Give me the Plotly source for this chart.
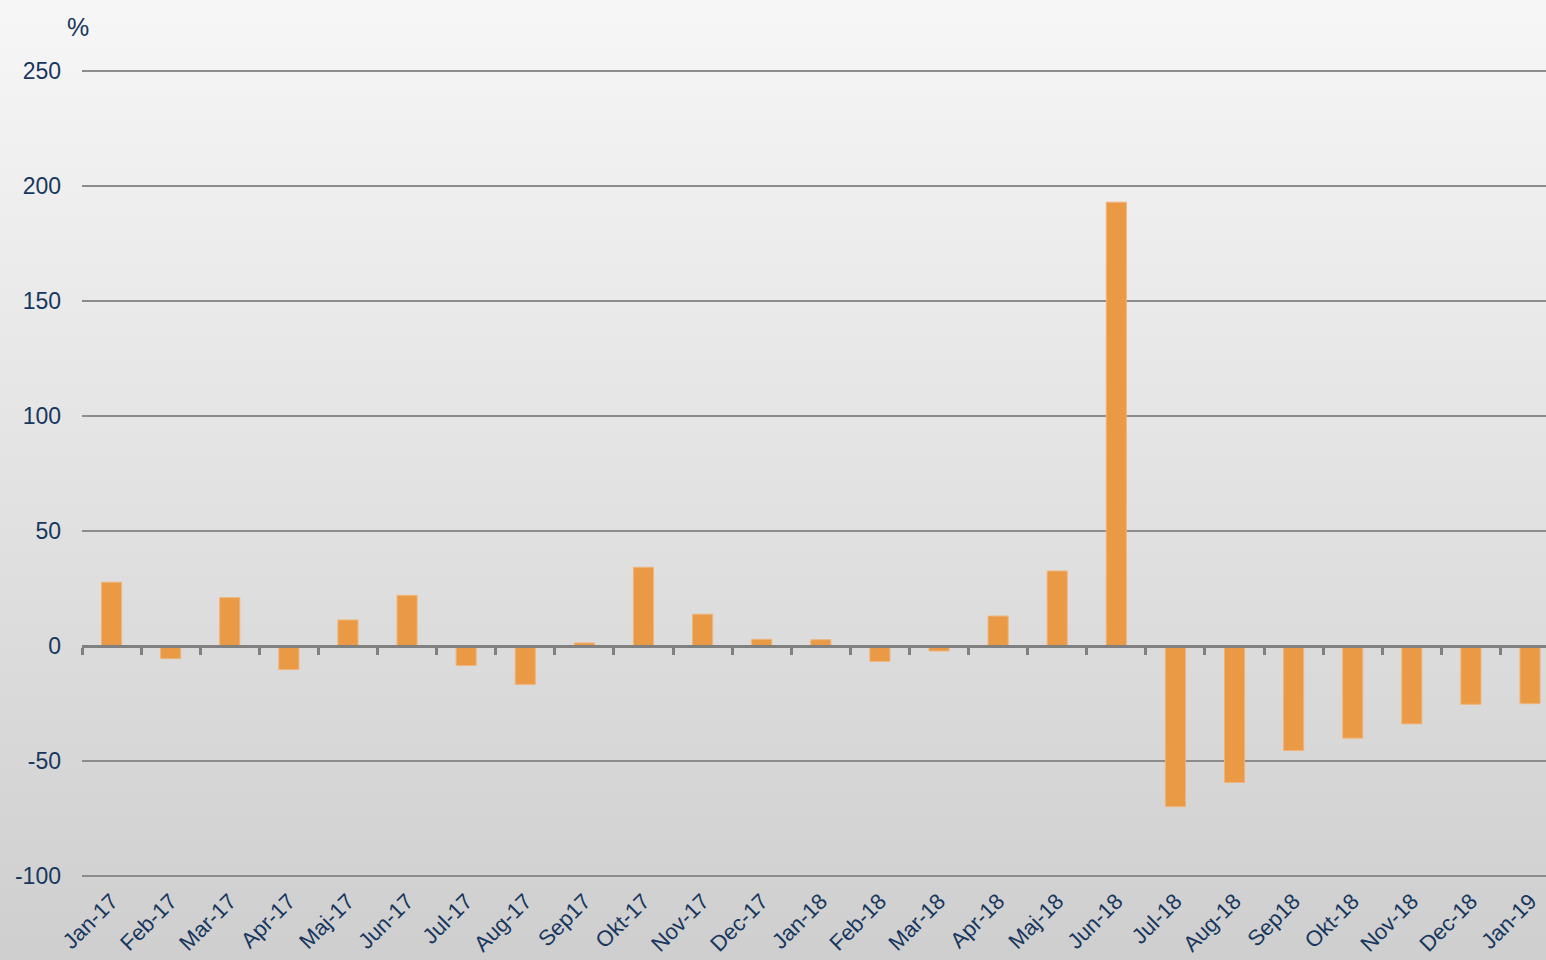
import plotly.graph_objects as go

months = ["Jan-17", "Feb-17", "Mar-17", "Apr-17", "Maj-17", "Jun-17", "Jul-17", "Aug-17",
          "Sep17", "Okt-17", "Nov-17", "Dec-17", "Jan-18", "Feb-18", "Mar-18", "Apr-18",
          "Maj-18", "Jun-18", "Jul-18", "Aug-18", "Sep18", "Okt-18", "Nov-18", "Dec-18", "Jan-19"]
values = [27.7, -5.5, 21.0, -10.3, 11.3, 22.0, -8.5, -16.7,
          1.3, 34.2, 13.8, 2.9, 2.7, -6.7, -2.2, 13.0,
          32.6, 193.0, -69.9, -59.4, -45.5, -40.1, -33.9, -25.4, -25.1]
y_ticks = [-100, -50, 0, 50, 100, 150, 200, 250]
y_tick_text = ["-100", "-50", "0", "50", "100", "150", "200", "250"]

W, H = 1546, 960
ML, MR, MT, MB = 82, 0, 70, 83
plot_h = H - MT - MB
y_min, y_max = -100.5, 250.5
x_range = [-0.5, 24.27]

text_color = "#17375E"
font_family = "Arial, Liberation Sans, sans-serif"

fig = go.Figure()
fig.add_trace(go.Bar(
    x=months, y=values,
    marker=dict(color="#EA9A45", line=dict(color="#F0B47A", width=1)),
    width=0.34, showlegend=False, hoverinfo="x+y",
))
# invisible trace to attach the zero-line axis with boundary ticks
fig.add_trace(go.Scatter(
    x=months, y=[0] * len(months), xaxis="x2", mode="markers",
    marker=dict(opacity=0), showlegend=False, hoverinfo="skip",
))

# background gradient
n_bands = 80
y0p = -MB / plot_h
y1p = 1 + MT / plot_h
top_c, bot_c = 246, 207
shapes = []
for i in range(n_bands):
    f = i / (n_bands - 1)
    c = round(top_c + (bot_c - top_c) * f)
    ya = y1p - (y1p - y0p) * i / n_bands
    yb = y1p - (y1p - y0p) * (i + 1) / n_bands
    shapes.append(dict(type="rect", xref="paper", yref="paper",
                       x0=-ML / (W - ML) - 0.01, x1=1.01, y0=yb - 0.002, y1=ya,
                       fillcolor=f"rgb({c},{c},{c})", line=dict(width=0), layer="below"))

fig.update_layout(
    width=W, height=H,
    margin=dict(l=ML, r=MR, t=MT, b=MB, pad=0, autoexpand=False),
    paper_bgcolor="rgb(230,230,230)",
    plot_bgcolor="rgba(0,0,0,0)",
    shapes=shapes,
    font=dict(family=font_family, color=text_color),
    xaxis=dict(
        type="category", categoryorder="array", categoryarray=months,
        range=x_range, showgrid=False, showline=False, zeroline=False,
        ticks="", tickangle=-45, tickfont=dict(size=22, color=text_color),
        ticklabelstandoff=6, automargin=False,
        anchor="y",
    ),
    xaxis2=dict(
        type="category", categoryorder="array", categoryarray=months,
        range=x_range, overlaying="x", anchor="free",
        position=(0 - y_min) / (y_max - y_min),
        showline=True, linecolor="#808080", linewidth=3,
        ticks="outside", tickson="boundaries", ticklen=7, tickwidth=3, tickcolor="#808080",
        showticklabels=False, showgrid=False, zeroline=False, automargin=False,
    ),
    yaxis=dict(
        range=[y_min, y_max], tickvals=y_ticks, ticktext=y_tick_text, showgrid=True,
        gridcolor="#8C8C8C", gridwidth=2, zeroline=False, showline=False,
        ticks="", tickfont=dict(size=23, color=text_color),
        ticklabelstandoff=20, automargin=False,
    ),
    annotations=[dict(
        text="%", xref="paper", yref="paper",
        x=(78 - ML) / (W - ML - MR), y=1 + (MT - 27) / plot_h,
        xanchor="center", yanchor="middle", showarrow=False,
        font=dict(size=25, color=text_color, family=font_family),
    )],
)

fig.write_html(
    "out.html",
    config={"displayModeBar": False},
    post_script="document.body.style.margin='0';document.body.style.overflow='hidden';",
)
